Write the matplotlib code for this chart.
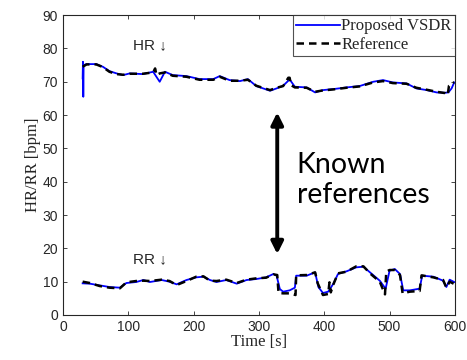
import matplotlib
matplotlib.use("Agg")
import matplotlib.pyplot as plt

# heart rate: proposed estimate (blue) and reference (black dashed)
t_hr = [30, 30.5, 31, 31.5, 36, 51, 61, 71, 82, 92, 102, 122, 138, 143,
        148, 156, 168, 189, 209, 230, 240, 255, 271, 283, 296, 317, 327,
        337, 347, 355, 373, 386, 398, 414, 434, 454, 475, 490, 505, 526,
        541, 557, 572, 585, 590, 595, 599]
hr_est = [71, 76, 65.5, 75, 75.3, 75.3, 74.5, 73.2, 72.5, 72, 72.5, 72.3, 73, 71.5,
          70, 73, 72, 71.7, 70.8, 70.8, 71.7, 70.5, 70.2, 70.8, 68.7, 67.3, 68,
          68.8, 70.7, 68.5, 68.3, 66.8, 67.5, 67.8, 68.3, 68.7, 70, 70.5, 69.8, 69.5,
          68, 67.5, 66.8, 66.7, 66.8, 68, 69.8]
t_hr_ref = [30, 36, 51, 61, 71, 82, 92, 102, 122, 138, 141, 143, 148, 156, 168,
            189, 209, 230, 240, 255, 271, 283, 296, 317, 327, 337, 345, 347, 349,
            355, 373, 386, 398, 414, 434, 454, 475, 490, 505, 526, 541, 557, 572,
            585, 589, 591, 595, 599]
hr_ref = [74.5, 75.2, 75.2, 74.4, 73, 72.3, 72.1, 72.4, 72.4, 72.8, 74, 72, 72.5, 72.8, 71.8,
          71.5, 70.6, 70.6, 71.5, 70.3, 70.3, 70.6, 68.8, 67.5, 68.2, 68.7, 71.2, 71.2, 69,
          68.3, 68.2, 67, 67.4, 67.7, 68.2, 68.6, 69.8, 70.2, 69.6, 69.4, 68.2, 67.6, 67,
          66.6, 66, 68.8, 69.5, 69.8]

# respiration rate
t_rr = [30, 41, 56, 71, 87, 97, 112, 123, 133, 151, 163, 174, 189, 204, 215,
        225, 235, 250, 266, 281, 296, 311, 322, 327, 332, 337, 347, 355, 357,
        373, 386, 391, 398, 406, 414, 421, 434, 449, 460, 470, 485, 494, 500,
        508, 516, 521, 531, 546, 550, 567, 582, 587, 592, 599]
rr_est = [9.5, 9.4, 8.9, 8.4, 8.2, 9.6, 9.9, 10.5, 9.9, 10.5, 10, 9.2, 10.5, 11.3, 11.5,
          10.5, 9.9, 10.5, 9.4, 10.5, 10.8, 11.3, 12.3, 11.8, 7.8, 7, 7.4, 8.2, 11.8,
          11.8, 12.8, 8.4, 6.6, 7, 9.4, 12.3, 13.1, 14.3, 14.5, 12.8, 10.3, 7.9, 13.3,
          13.8, 12.3, 7.4, 7.4, 7.9, 11.8, 11.5, 10.3, 8.4, 10.6, 9.9]
t_rr_ref = [30, 41, 56, 71, 87, 97, 112, 123, 133, 151, 163, 174, 189, 204, 215,
            225, 235, 250, 266, 281, 296, 311, 322, 328, 330, 337, 347, 356, 357,
            373, 386, 390, 398, 406, 408, 410, 414, 421, 434, 449, 460, 470, 485,
            493, 495, 500, 508, 516, 520, 531, 546, 549, 567, 582, 587, 592, 599]
rr_ref = [10, 9.6, 8.7, 8.2, 8, 9.8, 10.2, 10.3, 10.2, 10.6, 10.2, 9, 10.2, 11.5, 11.6,
          10.3, 10.2, 10.6, 9.6, 10.6, 11, 11.2, 12.2, 12, 6.6, 6.5, 6.5, 6, 11.9,
          12, 12.8, 9.5, 6, 6.3, 9.8, 6.8, 9.2, 12.5, 13, 14.6, 14.6, 12.5, 10,
          6.2, 13, 13.5, 13.5, 12, 6.5, 7, 7.2, 11.9, 11.3, 10.5, 8.2, 10, 9.3]

xticks = [0, 100, 200, 300, 400, 500, 600]
yticks = [0, 10, 20, 30, 40, 50, 60, 70, 80, 90]

gray = '#262626'
serif = 'Liberation Serif'

fig = plt.figure(figsize=(4.67, 3.6), dpi=100)
ax = fig.add_axes([0.135, 0.125, 0.839, 0.833])

ax.plot(t_hr, hr_est, color='#0000ff', lw=1.3, label='Proposed VSDR')
ax.plot(t_hr_ref, hr_ref, color='black', lw=1.8, ls=(0, (3, 2)), label='Reference')
ax.plot(t_rr, rr_est, color='#0000ff', lw=1.3)
ax.plot(t_rr_ref, rr_ref, color='black', lw=1.8, ls=(0, (3, 2)))

ax.set_xlim(0, 600)
ax.set_ylim(0, 90)
ax.set_xticks(xticks)
ax.set_yticks(yticks)
ax.tick_params(direction='in', top=True, right=True, length=3, width=0.6,
               colors=gray, labelsize=10)
for lab in ax.get_xticklabels() + ax.get_yticklabels():
    lab.set_fontfamily('Liberation Sans')
for s in ax.spines.values():
    s.set_color(gray)
    s.set_linewidth(0.8)

ax.set_xlabel('Time [s]', family=serif, fontsize=12, color=gray, labelpad=0)
ax.set_ylabel('HR/RR [bpm]', family=serif, fontsize=12, color=gray, labelpad=1)

leg = ax.legend(loc='upper right', prop={'family': serif, 'size': 12},
                frameon=True, fancybox=False, borderaxespad=0, borderpad=0.2,
                handlelength=2.6, handletextpad=0.1, labelspacing=0.15)
leg.get_frame().set_edgecolor(gray)
leg.get_frame().set_linewidth(0.8)
for txt in leg.get_texts():
    txt.set_color(gray)

ax.text(107, 81, 'HR \u2193', family=['Liberation Sans', 'DejaVu Sans'],
        fontsize=11, color=gray, va='center')
ax.text(107, 16.8, 'RR \u2193', family=['Liberation Sans', 'DejaVu Sans'],
        fontsize=11, color=gray, va='center')

ax.annotate('', xy=(328, 60.8), xytext=(328, 18.3),
            arrowprops=dict(arrowstyle='<|-|>', color='black', lw=2.8,
                            mutation_scale=18, shrinkA=0, shrinkB=0))
ax.text(358, 40.5, 'Known\nreferences', family='Lato', fontsize=20.5,
        color='black', va='center', ha='left', linespacing=1.15)

fig.savefig('out.png', dpi=100)
